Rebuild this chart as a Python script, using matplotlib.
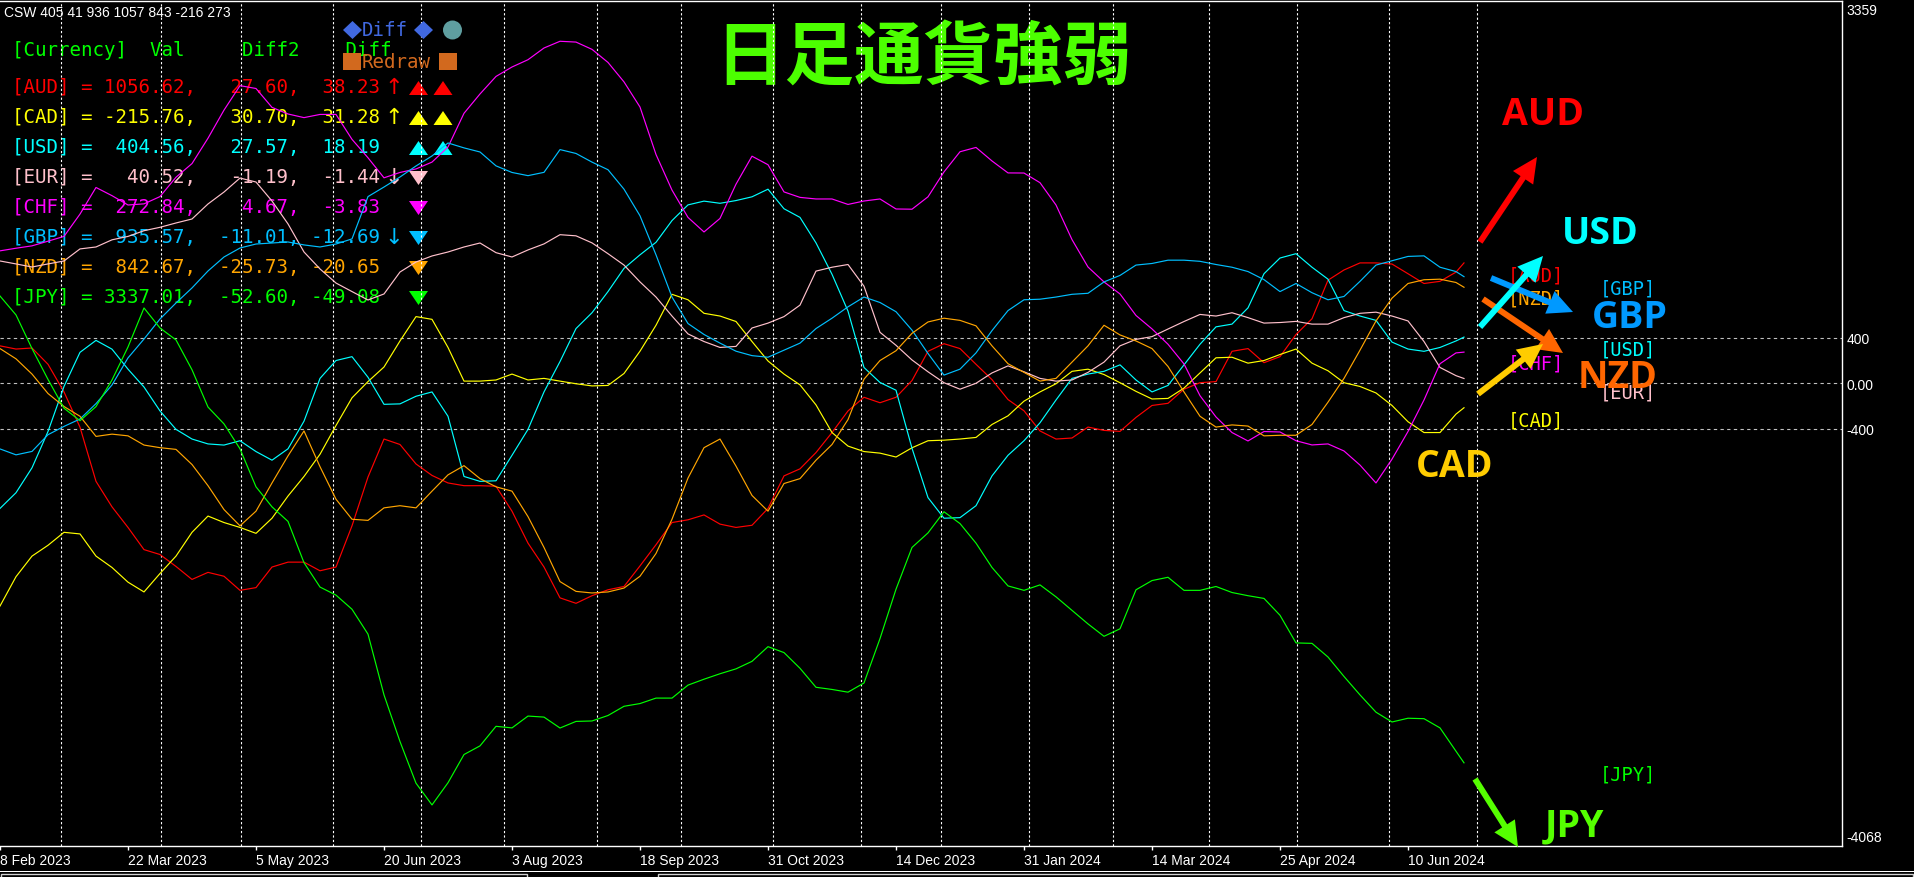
import matplotlib
matplotlib.use("Agg")
import matplotlib.pyplot as plt
import matplotlib.transforms as mtransforms
from matplotlib.patches import Polygon, Circle, Rectangle, FancyArrowPatch, ArrowStyle

W, H = 1914, 878

# bar index of each sample (4 px per daily bar), last bar is 366
bars = list(range(0, 365, 4)) + [366]

aud = [328, 300, 309, 166, -77, -387, -863, -1087, -1268, -1463, -1506, -1611,
       -1725, -1663, -1697, -1821, -1797, -1616, -1573, -1573, -1649, -1616, -1254, -825,
       -491, -539, -710, -811, -877, -901, -901, -906, -1125, -1406, -1616, -1887,
       -1935, -1868, -1816, -1787, -1606, -1420, -1225, -1201, -1158, -1239, -1268, -1249,
       -1101, -815, -753, -610, -434, -244, -124, -172, -124, 23, 280, 347,
       304, 166, 31, -144, -243, -420, -491, -482, -386, -415, -424, -301,
       -196, -177, -53, 4, 14, 280, 304, 180, 233, 428, 566, 905,
       995, 1057, 1057, 1047, 962, 876, 895, 976, 1057]
cad = [-1959, -1701, -1520, -1425, -1311, -1325, -1520, -1620, -1749, -1835, -1673, -1520,
       -1311, -1168, -1225, -1268, -1320, -1187, -992, -820, -625, -372, -129, 14,
       142, 371, 585, 561, 314, 18, 18, 28, 80, 28, 42, 18,
       -5, -24, -20, 85, 281, 509, 781, 733, 614, 590, 542, 366,
       195, 80, -15, -191, -434, -553, -601, -615, -649, -568, -506, -501,
       -491, -477, -363, -287, -158, -77, -5, 104, 123, 76, 4, -72,
       -139, -134, -43, 90, 223, 228, 176, 199, 252, 300, 176, 109,
       4, -29, -86, -196, -339, -434, -434, -272, -216]
usd = [-1101, -963, -744, -425, -29, 271, 376, 299, 123, -34, -244, -406,
       -491, -534, -544, -506, -601, -677, -577, -334, 42, 199, 233, 52,
       -186, -182, -115, -77, -291, -820, -863, -858, -634, -406, -77, 190,
       480, 619, 805, 1009, 1128, 1238, 1429, 1567, 1600, 1581, 1605, 1638,
       1705, 1533, 1457, 1233, 957, 633, 138, 6, -62, -572, -1006, -1187,
       -1182, -1077, -815, -634, -506, -348, -148, 42, 80, 104, 161, 28,
       -77, -20, 161, 342, 495, 519, 662, 962, 1100, 1138, 1019, 914,
       638, 590, 552, 361, 300, 280, 314, 371, 405]
eur = [1074, 1048, 1021, 1048, 1074, 1180, 1197, 1260, 1290, 1340, 1370, 1408,
       1443, 1575, 1680, 1803, 1768, 1601, 1400, 1153, 1004, 880, 805, 731,
       784, 977, 1065, 1118, 1153, 1197, 1232, 1147, 1109, 1171, 1224, 1305,
       1295, 1233, 1138, 1038, 890, 757, 590, 433, 366, 314, 323, 485,
       528, 585, 686, 985, 1019, 1043, 852, 447, 333, 204, 100, 4,
       -53, -1, 90, 152, 100, 42, 18, 28, 95, 185, 328, 385,
       409, 476, 542, 604, 590, 619, 576, 528, 533, 543, 519, 519,
       576, 614, 624, 590, 547, 366, 138, 66, 41]
chf = [1163, 1186, 1207, 1248, 1290, 1486, 1720, 1648, 1566, 1576, 1640, 1810,
       1930, 2153, 2400, 2615, 2590, 2424, 2366, 2334, 2362, 2362, 2143, 1981,
       1805, 1852, 1883, 1943, 2076, 2372, 2542, 2696, 2779, 2843, 2946, 3005,
       2998, 2934, 2819, 2648, 2427, 2010, 1697, 1457, 1329, 1448, 1749, 1995,
       1920, 1681, 1633, 1619, 1619, 1571, 1601, 1619, 1531, 1529, 1638, 1857,
       2034, 2072, 1953, 1848, 1847, 1762, 1566, 1262, 1021, 890, 784, 595,
       477, 342, 169, -110, -297, -434, -508, -425, -429, -506, -543, -534,
       -596, -720, -877, -668, -425, -148, 171, 266, 273]
gbp = [-578, -630, -600, -453, -380, -315, -180, -16, 222, 388, 564, 705,
       837, 986, 1109, 1188, 1223, 1232, 1241, 1215, 1197, 1223, 1268, 1640,
       1724, 1812, 1909, 1997, 2111, 2068, 2032, 1910, 1852, 1824, 1853, 2053,
       2019, 1943, 1876, 1705, 1471, 1128, 757, 524, 428, 352, 281, 242,
       228, 290, 352, 480, 571, 671, 757, 709, 628, 466, 261, 71,
       123, 266, 462, 638, 733, 738, 757, 781, 790, 890, 947, 1038,
       1052, 1081, 1081, 1071, 1043, 1019, 981, 910, 805, 876, 795, 733,
       762, 895, 1038, 1076, 1114, 1119, 1019, 981, 936]
nzd = [304, 214, 80, -91, -205, -291, -468, -448, -463, -544, -567, -582,
       -715, -901, -1111, -1254, -1125, -877, -639, -420, -734, -1020, -1196, -1206,
       -1096, -1077, -1096, -949, -806, -725, -839, -911, -949, -1173, -1444, -1744,
       -1830, -1844, -1835, -1801, -1697, -1497, -1196, -834, -567, -491, -729, -987,
       -1125, -882, -839, -677, -539, -320, 35, 199, 285, 438, 538, 571,
       552, 504, 328, 171, 95, 18, 42, 185, 328, 509, 424, 371,
       304, 147, -77, -291, -386, -367, -377, -463, -458, -458, -363, -167,
       42, 290, 547, 747, 876, 909, 914, 885, 843]
jpy = [766, 600, 304, 33, -220, -330, -206, 28, 318, 661, 485, 380,
       118, -210, -358, -577, -911, -1087, -1215, -1578, -1792, -1863, -1987, -2206,
       -2740, -3150, -3516, -3707, -3512, -3264, -3188, -3016, -3030, -2926, -2935, -3031,
       -2973, -2969, -2921, -2840, -2816, -2768, -2768, -2654, -2602, -2554, -2511, -2445,
       -2316, -2368, -2506, -2673, -2692, -2716, -2635, -2245, -1811, -1444, -1316, -1130,
       -1234, -1406, -1620, -1782, -1821, -1773, -1878, -1997, -2116, -2225, -2159, -1816,
       -1735, -1706, -1821, -1821, -1787, -1840, -1868, -1892, -2040, -2283, -2287, -2407,
       -2578, -2740, -2892, -2978, -2945, -2949, -3030, -3235, -3337]

currencies = ["AUD", "CAD", "USD", "EUR", "CHF", "GBP", "NZD", "JPY"]
series = [aud, cad, usd, eur, chf, gbp, nzd, jpy]
colors = ["#FF0000", "#FFFF00", "#00FFFF", "#FFC0CB", "#FF00FF", "#00BFFF", "#FFA500", "#00FF00"]

vals = [1056.62, -215.76, 404.56, 40.52, 272.84, 935.57, 842.67, 3337.01]
diff2 = [27.60, 30.70, 27.57, -1.19, 4.67, -11.01, -25.73, -52.60]
diff = [38.23, 31.28, 18.19, -1.44, -3.83, -12.69, -20.65, -49.08]
trend = ["↑", "↑", "", "↓", "", "↓", "", ""]
tri_up = [True, True, True, False, False, False, False, False]
tri_count = [2, 2, 2, 1, 1, 1, 1, 1]
csw_text = "CSW 405 41 936 1057 843 -216 273"
header = "[Currency]  Val     Diff2    Diff"

date_bars = list(range(0, 353, 32))
date_labels = ["8 Feb 2023", "22 Mar 2023", "5 May 2023", "20 Jun 2023", "3 Aug 2023",
               "18 Sep 2023", "31 Oct 2023", "14 Dec 2023", "31 Jan 2024", "14 Mar 2024",
               "25 Apr 2024", "10 Jun 2024"]
month_bars = [15.25, 40.25, 60.25, 83.25, 105.25, 126.0, 149.25, 170.25, 193.25, 215.25,
              235.25, 257.25, 278.25, 302.25, 324.25, 347.25, 369.25]
levels = [400, 0, -400]
level_labels = ["400", "0.00", "-400"]
y_top, y_bottom = 3359, -4068

# right side: arrows (tail, tip in screen px) and big labels
arrow_cur = ["GBP", "NZD", "CAD", "AUD", "USD", "JPY"]
arrow_col = ["#0099FF", "#FF6600", "#FFCC00", "#FF0000", "#00FFFF", "#55FF00"]
arrow_tail = [(1491, 279), (1483, 300), (1478, 395), (1480, 243), (1480, 328), (1475, 780)]
arrow_tip = [(1573, 313), (1563, 354), (1543, 345), (1537, 158), (1543, 257), (1518, 848)]
big_pos = [(1630, 328), (1618, 388), (1455, 477), (1543, 125), (1600, 244), (1574, 836)]
tag_cur = ["AUD", "NZD", "CHF", "CAD", "GBP", "USD", "EUR", "JPY"]
tag_pos = [(1536, 276), (1536, 299), (1536, 364), (1536, 421),
           (1628, 289), (1628, 350), (1628, 393), (1628, 775)]

plt.rcParams["font.family"] = ["Liberation Sans", "DejaVu Sans"]
mono = ["DejaVu Sans Mono", "DejaVu Sans"]
fs_mono = 13.8

fig = plt.figure(figsize=(W / 100, H / 100), dpi=100, facecolor="black")
ax = fig.add_axes([0, 31 / H, 1842 / W, 845 / H])
ax.set_facecolor("black")
ax.set_xlim(0, 460.5)
ax.set_ylim(y_bottom, y_top)
# screen pixel coords (origin top-left) for the chart objects
px = mtransforms.Affine2D().scale(1 / W, -1 / H).translate(0, 1) + fig.transFigure

for ys, c in zip(series, colors):
    ax.plot(bars, ys, color=c, lw=0.85, zorder=3)

for v in levels:
    ax.axhline(v, color="#c0c0c0", lw=0.8, ls=(0, (3, 3)), zorder=2)
for b in month_bars:
    ax.axvline(b, color="white", lw=0.8, ls=(0, (2, 2)), zorder=2)

for s in ["top", "right", "bottom"]:
    ax.spines[s].set_color("white")
    ax.spines[s].set_linewidth(1)
ax.spines["left"].set_visible(False)

ax.yaxis.tick_right()
ax.set_yticks(levels, level_labels)
ax.tick_params(axis="y", colors="white", length=0, pad=3, labelsize=10)
ax.set_xticks(date_bars, date_labels)
for lab in ax.get_xticklabels():
    lab.set_ha("left")
ax.tick_params(axis="x", colors="white", length=3, width=1, pad=2, labelsize=10)
ax.text(1846, 11, str(y_top), transform=px, color="white", fontsize=10, va="center")
ax.text(1846, 838, str(y_bottom), transform=px, color="white", fontsize=10, va="center")

# info panel
ax.text(4, 13, csw_text, transform=px, color="white", fontsize=10, va="center", zorder=1)
ax.text(12, 50, header, transform=px, color="#00FF00",
        family=mono, fontsize=fs_mono, va="center", zorder=1)
for i, cur in enumerate(currencies):
    y = 88 + 30 * i
    row = f"[{cur}] = {vals[i]:7.2f},{diff2[i]:8.2f},{diff[i]:7.2f}"
    ax.text(12, y, row, transform=px, color=colors[i], family=mono, fontsize=fs_mono,
            va="center", zorder=1)
    if trend[i]:
        ax.text(394, y, trend[i], transform=px, color=colors[i], family=["DejaVu Sans"],
                fontsize=16, ha="center", va="center", zorder=1)
    for k in range(tri_count[i]):
        cx, cy = 418.5 + 24.5 * k, y + 1
        if tri_up[i]:
            pts = [(cx - 9.5, cy + 7), (cx + 9.5, cy + 7), (cx, cy - 7)]
        else:
            pts = [(cx - 9.5, cy - 7), (cx + 9.5, cy - 7), (cx, cy + 7)]
        ax.add_patch(Polygon(pts, closed=True, transform=px, facecolor=colors[i],
                             edgecolor="none", zorder=1, clip_on=False))

# buttons
for cx in (352.5, 423.5):
    ax.add_patch(Polygon([(cx - 9.5, 31), (cx, 22), (cx + 9.5, 31), (cx, 40)], transform=px,
                         facecolor="#4169E1", edgecolor="none", zorder=4, clip_on=False))
ax.text(362, 31, "Diff", transform=px, color="#4169E1", family=mono, fontsize=fs_mono,
        va="center", zorder=4)
ax.add_patch(Circle((452.5, 31), 9.5, transform=px, facecolor="#5F9EA0", edgecolor="none",
                    zorder=4, clip_on=False))
for cx in (352, 448):
    ax.add_patch(Rectangle((cx - 9, 54), 18, 17, transform=px, facecolor="#D2691E",
                           edgecolor="none", zorder=4, clip_on=False))
ax.text(362, 62, "Redraw", transform=px, color="#D2691E", family=mono, fontsize=fs_mono,
        va="center", zorder=4)

ax.text(924, 59, "日足通貨強弱", transform=px, family=["Noto Sans CJK JP", "DejaVu Sans"],
        weight="bold", fontsize=50, color="#4CFF00", ha="center", va="center", zorder=1)

# right side markers
for cur, (tx, ty) in zip(tag_cur, tag_pos):
    ax.text(tx, ty, f"[{cur}]", transform=px, color=colors[currencies.index(cur)],
            family=mono, fontsize=13.5, ha="center", va="center", zorder=5)
style = ArrowStyle.Simple(head_length=1.8, head_width=1.75, tail_width=0.43)
for cur, c, a, b, (lx, ly) in zip(arrow_cur, arrow_col, arrow_tail, arrow_tip, big_pos):
    ax.add_patch(FancyArrowPatch(a, b, transform=px, arrowstyle=style, mutation_scale=10,
                                 color=c, lw=0, shrinkA=0, shrinkB=0, zorder=6, clip_on=False))
    ax.text(lx, ly, cur, transform=px, color=c, family=["Open Sans", "DejaVu Sans"],
            weight="bold", fontsize=27, ha="center", va="baseline", zorder=7)

# tab strip at the bottom
ax.add_patch(Rectangle((0, 872), W, 1, transform=px, facecolor="white", edgecolor="none",
                       clip_on=False))
for x0, x1 in ((1, 527), (658, 1913)):
    ax.add_patch(Rectangle((x0, 875), x1 - x0, 4, transform=px, facecolor="black",
                           edgecolor="#d0d0d0", lw=1, clip_on=False))

fig.savefig("out.png", dpi=100, facecolor="black")
